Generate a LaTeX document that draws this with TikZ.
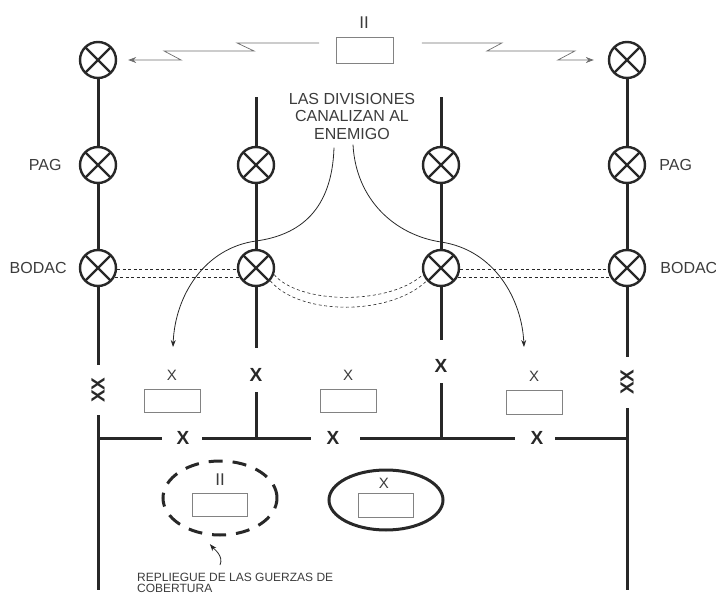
\documentclass[tikz,border=0pt]{standalone}
\usepackage{fontspec}
\setmainfont{Liberation Sans}
\usetikzlibrary{arrows.meta,positioning,shapes.geometric}
\definecolor{ink}{RGB}{40,40,40}
\definecolor{textgray}{RGB}{60,60,60}
\definecolor{boxgray}{RGB}{130,130,130}
\definecolor{relaygray}{RGB}{110,110,110}

\begin{document}
\begin{tikzpicture}[
    x=1pt, y=-1pt,
    every node/.style={font=\fontsize{16}{17.5}\selectfont, text=textgray},
    post/.style={circle, draw=ink, line width=2.4pt, minimum size=36pt, inner sep=0pt, fill=white,
      path picture={\draw[ink, line width=2.4pt]
        (path picture bounding box.north west) -- (path picture bounding box.south east)
        (path picture bounding box.north east) -- (path picture bounding box.south west);}},
    unitbox/.style={rectangle, draw=boxgray, line width=0.8pt, minimum width=56pt, minimum height=23pt, inner sep=0pt},
    tag/.style={inner sep=0pt},
    echelon/.style={font=\fontsize{15}{15}\selectfont, inner sep=0pt},
    crossmark/.style={font=\fontsize{19}{19}\selectfont\bfseries, text=ink, inner sep=0pt},
    front/.style={ink, line width=3pt},
    arrow/.style={-{Stealth[length=7pt, width=5pt]}, ink, line width=0.8pt},
    relay/.style={-{Stealth[length=8pt, width=6pt]}, relaygray, line width=0.7pt},
    linkage/.style={ink, line width=0.6pt, dash pattern=on 3pt off 2.5pt}
]
\useasboundingbox (0,0) rectangle (716,597);

% Puestos de mando
\node[post] (l1) at (98,60) {};
\node[post] (l2) at (98,165) {};
\node[post] (l3) at (98,268) {};
\node[post] (m1) at (256,165) {};
\node[post] (m2) at (256,268) {};
\node[post] (n1) at (441,165) {};
\node[post] (n2) at (441,268) {};
\node[post] (r1) at (627,60) {};
\node[post] (r2) at (627,165) {};
\node[post] (r3) at (627,268) {};

\node[tag, left=17pt of l2] (pagl) {PAG};
\node[tag, left=12pt of l3] (bodacl) {BODAC};
\node[tag, right=13pt of r2] (pagr) {PAG};
\node[tag, right=14pt of r3] (bodacr) {BODAC};

% Unidades
\node[unitbox, minimum width=57pt, minimum height=26pt] (hq) at (365,50) {};
\node[echelon, font=\fontsize{17}{17}\selectfont] (hqsize) at (364,23) {II};
\node[unitbox] (u1) at (172,401) {};
\node[unitbox] (u2) at (348,401) {};
\node[unitbox, minimum height=24pt] (u3) at (534,402) {};
\node[echelon, above=8pt of u1] (u1size) {X};
\node[echelon, above=8pt of u2] (u2size) {X};
\node[echelon, above=8pt of u3] (u3size) {X};

\node[ellipse, draw=ink, line width=3pt, dash pattern=on 14pt off 10pt, inner sep=0pt,
      minimum width=114pt, minimum height=74pt] (rear) at (220,498) {};
\node[unitbox, minimum width=55pt] (u4) at (219.5,504.5) {};
\node[echelon, font=\fontsize{17}{17}\selectfont] (u4size) at (220,480) {II};
\node[ellipse, draw=ink, line width=3pt, inner sep=0pt,
      minimum width=114pt, minimum height=60pt] (res) at (386,500) {};
\node[unitbox, minimum width=55pt, minimum height=24pt] (u5) at (385.5,505) {};
\node[echelon] (u5size) at (384,483) {X};

% Limites
\node[crossmark, rotate=90] (lxx) at (98,390) {XX};
\node[crossmark, rotate=90] (rxx) at (627,382) {XX};
\node[crossmark] (mx) at (256,375) {X};
\node[crossmark] (nx) at (441,366) {X};
\node[crossmark] (hx1) at (183,438) {X};
\node[crossmark] (hx2) at (333,438) {X};
\node[crossmark] (hx3) at (537,438) {X};
\coordinate (lfoot) at (98,590);
\coordinate (rfoot) at (627,590);
\coordinate (hl) at (98,438);
\coordinate (hr) at (627,438);
\coordinate (mtop) at (256,97);
\coordinate (ntop) at (441,97);

\draw[front] (l1) -- (l2);
\draw[front] (l2) -- (l3);
\draw[front] (l3) -- ([yshift=25pt]lxx.center);
\draw[front] ([yshift=-25pt]lxx.center) -- (lfoot);
\draw[front] (r1) -- (r2);
\draw[front] (r2) -- (r3);
\draw[front] (r3) -- ([yshift=25pt]rxx.center);
\draw[front] ([yshift=-26pt]rxx.center) -- (rfoot);
\draw[front] (mtop) -- (m1);
\draw[front] (m1) -- (m2);
\draw[front] (m2) -- ([yshift=27pt]mx.center);
\draw[front] ([yshift=-17pt]mx.center) -- (hl -| mx);
\draw[front] (ntop) -- (n1);
\draw[front] (n1) -- (n2);
\draw[front] (n2) -- ([yshift=26pt]nx.center);
\draw[front] ([yshift=-17pt]nx.center) -- (hl -| nx);
\draw[front] (hl) -- ([xshift=-21pt]hx1.center);
\draw[front] ([xshift=19pt]hx1.center) -- ([xshift=-22pt]hx2.center);
\draw[front] ([xshift=27pt]hx2.center) -- ([xshift=-22pt]hx3.center);
\draw[front] ([xshift=18pt]hx3.center) -- (hr);

% Enlaces BODAC
\draw[linkage] (l3.-3) -- (m2.183);
\draw[linkage] (l3.-30) -- (m2.210);
\draw[linkage] (n2.-3) -- (r3.183);
\draw[linkage] (n2.-30) -- (r3.210);
\draw[linkage] (m2.-20) .. controls (300,305) and (390,305) .. (n2.200);
\draw[linkage] (m2.-42) .. controls (300,316) and (390,316) .. (n2.222);

% Texto y flechas
\node[align=center] (divs) at (352,116) {LAS DIVISIONES\\CANALIZAN AL\\ENEMIGO};
\coordinate (drop1) at (173,347);
\coordinate (drop2) at (524,347);
\draw[arrow] ([xshift=-18pt, yshift=-5pt]divs.south) .. controls (332,210) and (300,235) .. (256,241)
    .. controls (205,248) and (175,295) .. (drop1);
\draw[arrow] ([xshift=1pt, yshift=-2pt]divs.south) .. controls (356,200) and (395,235) .. (441,242)
    .. controls (495,250) and (522,300) .. (drop2);

\draw[relay] ([xshift=-17pt, yshift=7pt]hq.west) -- ++(-82,0) -- ++(17,8) -- ++(-90,0) -- ++(17,9)
    -- ([xshift=11pt]l1.east);
\draw[relay] ([xshift=28pt, yshift=7pt]hq.east) -- ++(80,0) -- ++(-15,8) -- ++(88,0) -- ++(-17,9)
    -- ([xshift=-14pt]r1.west);

\node[tag, font=\fontsize{12}{11}\selectfont, align=left, anchor=west] (note) at (137,582.5)
    {REPLIEGUE DE LAS GUERZAS DE\\COBERTURA};
\coordinate (pull) at (220,565);
\draw[arrow] (pull) .. controls (224,556) and (214,549) .. ([xshift=-2pt, yshift=-8pt]rear.258);

\end{tikzpicture}
\end{document}
